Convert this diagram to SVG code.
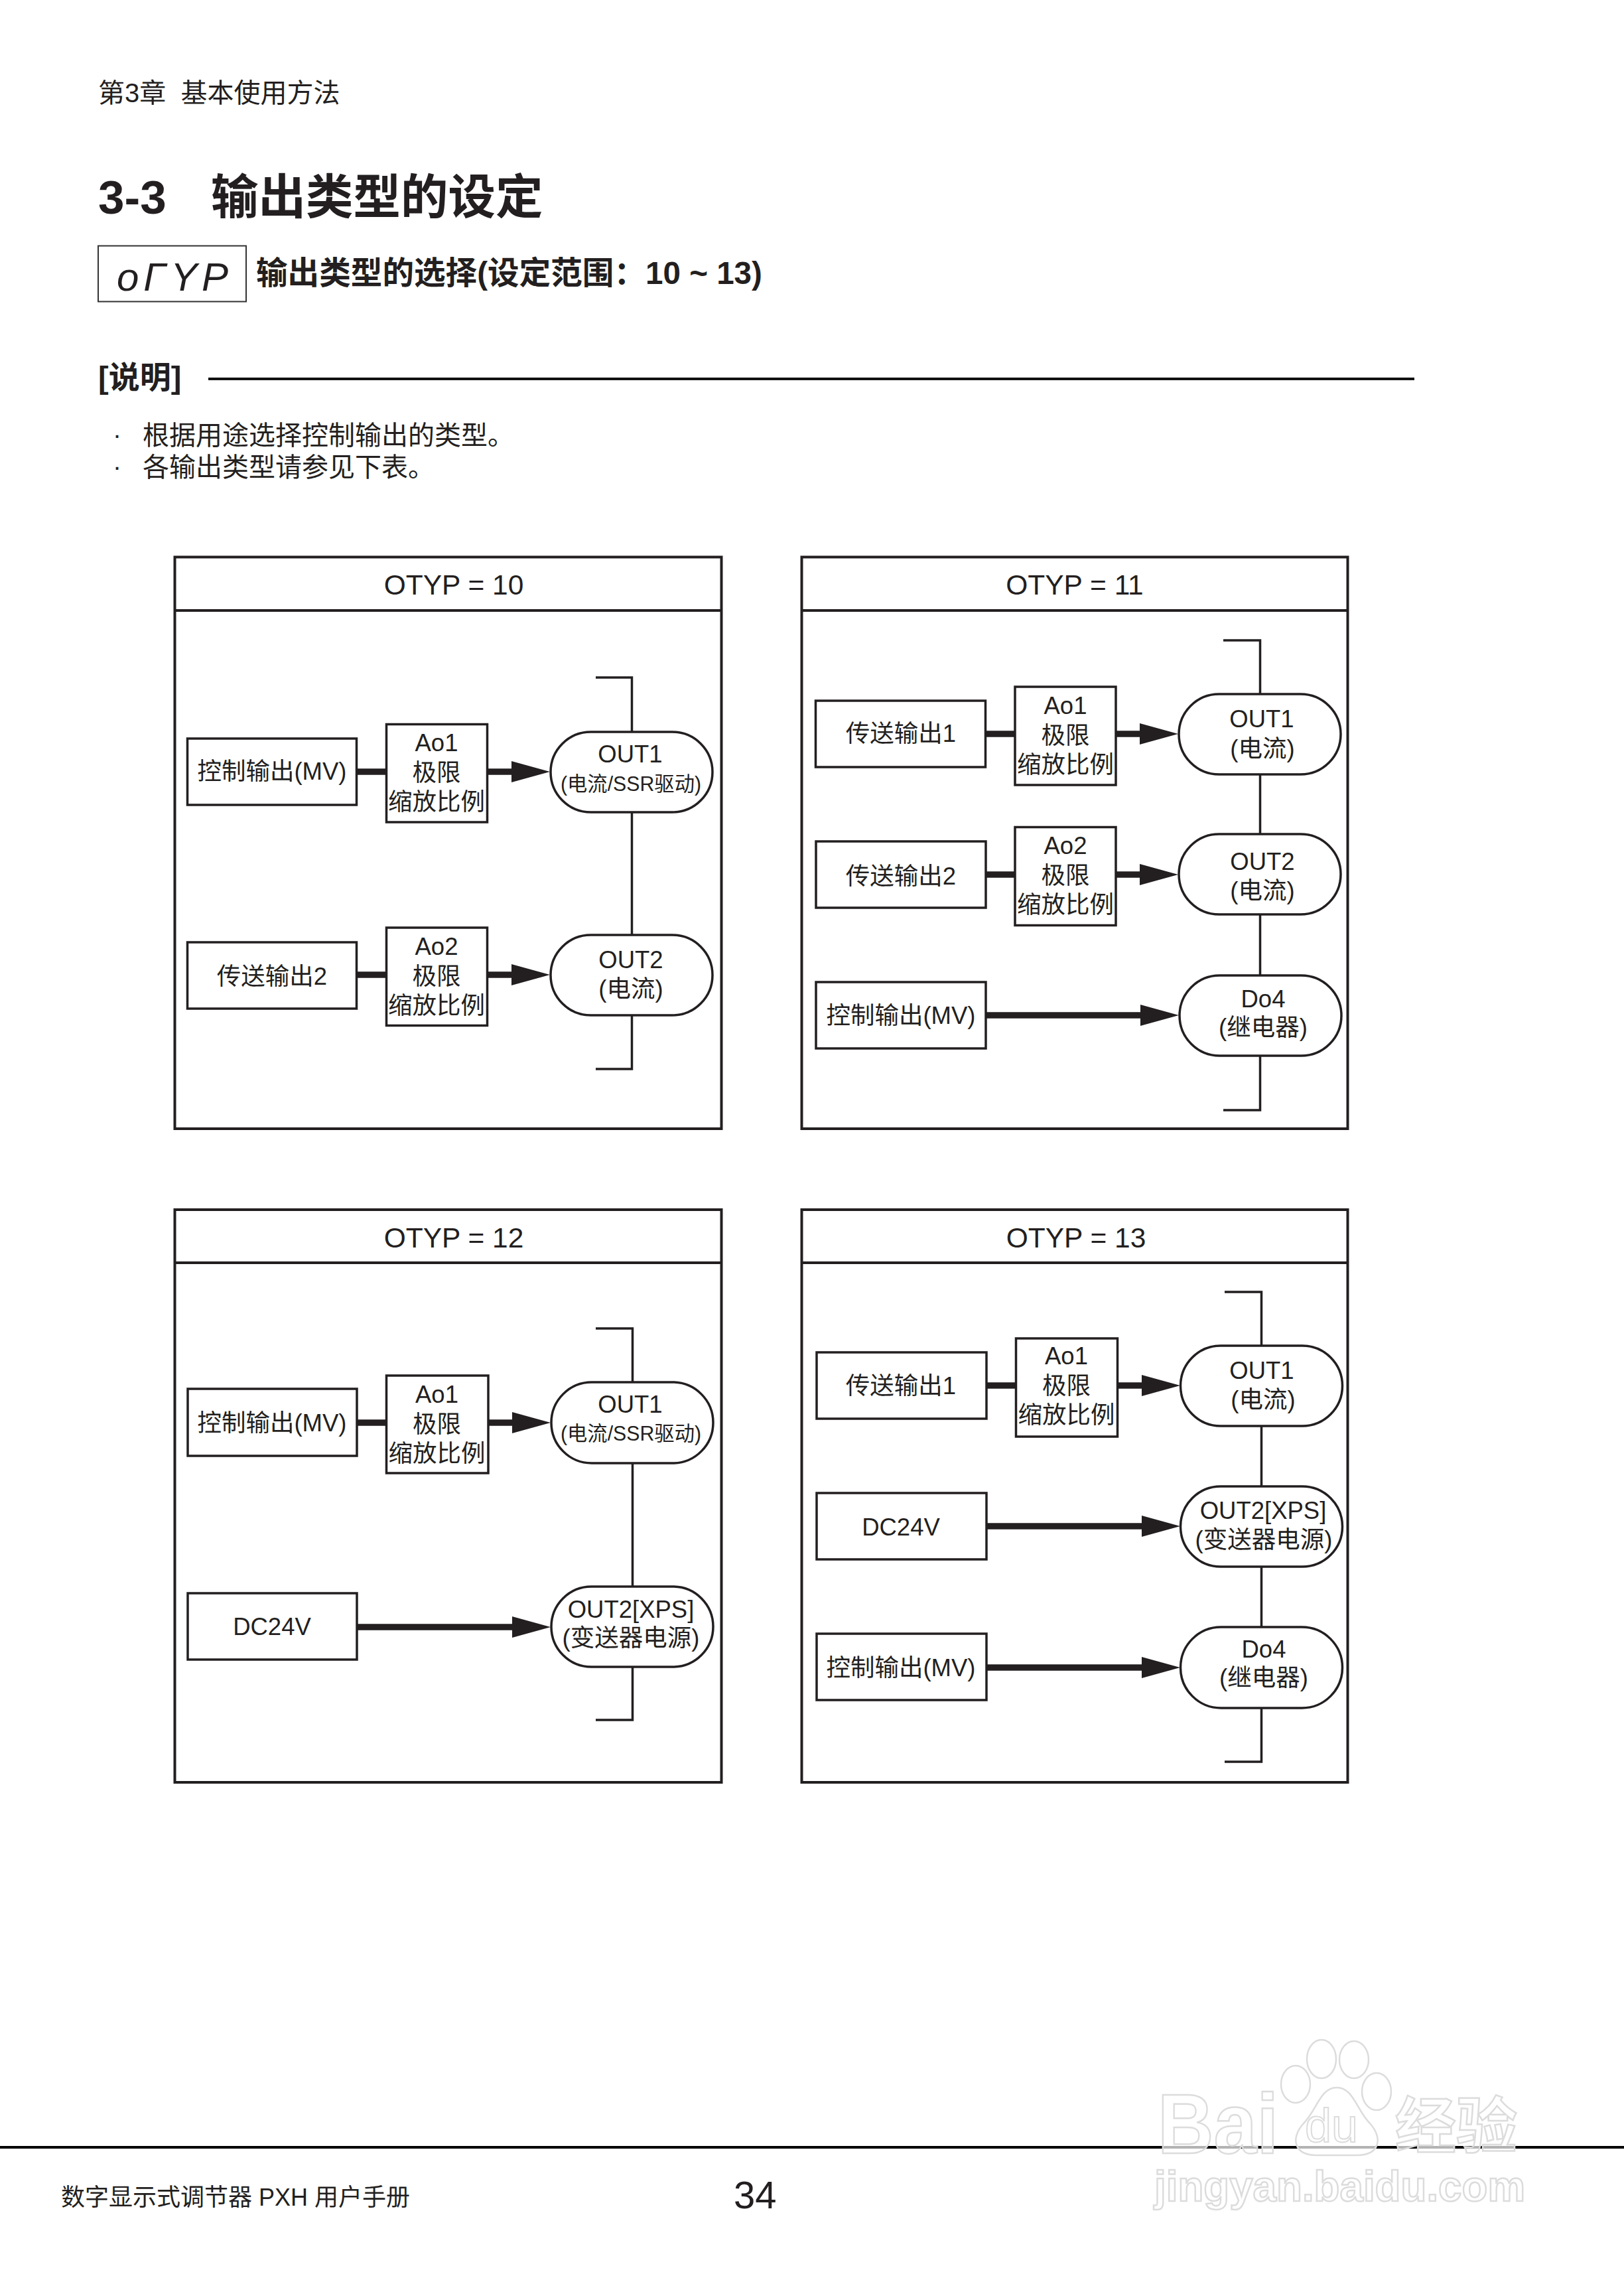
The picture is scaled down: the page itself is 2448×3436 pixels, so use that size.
<svg xmlns="http://www.w3.org/2000/svg" width="2448" height="3436" viewBox="0 0 2448 3436">
<defs>
<style>
text{font-family:"Liberation Sans","Noto Sans CJK SC",sans-serif;fill:#231f20}
.b{font-weight:700}
.m{text-anchor:middle;font-size:36.5px}
.t{text-anchor:middle;font-size:42.5px}
.frame{fill:#fff;stroke:#231f20;stroke-width:4}
.box{fill:#fff;stroke:#231f20;stroke-width:3.5}
.thin{fill:none;stroke:#231f20;stroke-width:3.5}
.thick{fill:none;stroke:#231f20;stroke-width:9.5}
.wm{fill:#fff;fill-opacity:.7;stroke:#dcdcdc;stroke-width:2.5;font-weight:700}
</style>
<marker id="ah" markerUnits="userSpaceOnUse" markerWidth="60" markerHeight="36" refX="0" refY="18" orient="auto"><path d="M0 2L58 18L0 34z" fill="#231f20"/></marker>
</defs>
<rect width="2448" height="3436" fill="#fff"/>
<g id="page-header">
<text x="148" y="154" font-size="40">第3章&#160;&#160;基本使用方法</text>
<text class="b" x="148" y="322" font-size="71">3-3</text>
<text class="b" x="318" y="322" font-size="71.500">输出类型的设定</text>
<rect x="148" y="370.500" width="223" height="84" fill="#fff" stroke="#333" stroke-width="2"/>
<text x="176" y="438" font-size="60" font-style="italic" textLength="168" lengthAdjust="spacing" fill="#333">oΓYP</text>
<text class="b" x="386" y="428" font-size="47.600">输出类型的选择(设定范围：10 ~ 13)</text>
<text class="b" x="148" y="585" font-size="47">[说明]</text>
<line x1="314" y1="571" x2="2132" y2="571" stroke="#111" stroke-width="4"/>
<text x="170" y="669" font-size="39">·</text>
<text x="215" y="670" font-size="40">根据用途选择控制输出的类型。</text>
<text x="170" y="717" font-size="39">·</text>
<text x="215" y="718" font-size="40">各输出类型请参见下表。</text>
</g>

<g id="frames">
<g id="frame-10"><rect class="frame" x="263.500" y="839.500" width="824" height="861.500"/><line class="frame" x1="263.500" y1="920" x2="1087.500" y2="920"/><text class="t" x="684" y="896">OTYP = 10</text></g>
<g id="frame-11"><rect class="frame" x="1208.500" y="839.500" width="823" height="861.500"/><line class="frame" x1="1208.500" y1="920" x2="2031.500" y2="920"/><text class="t" x="1620" y="896">OTYP = 11</text></g>
<g id="frame-12"><rect class="frame" x="263.500" y="1823" width="824" height="863"/><line class="frame" x1="263.500" y1="1903" x2="1087.500" y2="1903"/><text class="t" x="684" y="1880">OTYP = 12</text></g>
<g id="frame-13"><rect class="frame" x="1208.500" y="1823" width="823" height="863"/><line class="frame" x1="1208.500" y1="1903" x2="2031.500" y2="1903"/><text class="t" x="1622" y="1880">OTYP = 13</text></g>
</g>

<g id="connectors">
<path class="thin" d="M898 1021H952.500V1611H898"/>
<line class="thick" x1="537" y1="1163" x2="582" y2="1163"/>
<line class="thick" x1="735" y1="1163" x2="771" y2="1163" marker-end="url(#ah)"/>
<line class="thick" x1="537" y1="1469" x2="582" y2="1469"/>
<line class="thick" x1="735" y1="1469" x2="771" y2="1469" marker-end="url(#ah)"/>

<path class="thin" d="M1844 965H1899.500V1673H1844"/>
<line class="thick" x1="1485" y1="1106" x2="1529" y2="1106"/>
<line class="thick" x1="1682" y1="1106" x2="1718" y2="1106" marker-end="url(#ah)"/>
<line class="thick" x1="1485" y1="1318" x2="1530" y2="1318"/>
<line class="thick" x1="1682" y1="1318" x2="1718" y2="1318" marker-end="url(#ah)"/>
<line class="thick" x1="1486" y1="1530" x2="1719" y2="1530" marker-end="url(#ah)"/>

<path class="thin" d="M898 2002H953.500V2592H898"/>
<line class="thick" x1="538" y1="2144" x2="582" y2="2144"/>
<line class="thick" x1="736" y1="2144" x2="772" y2="2144" marker-end="url(#ah)"/>
<line class="thick" x1="538" y1="2452" x2="772" y2="2452" marker-end="url(#ah)"/>

<path class="thin" d="M1846 1947H1901.500V2655H1846"/>
<line class="thick" x1="1487" y1="2088" x2="1531" y2="2088"/>
<line class="thick" x1="1684" y1="2088" x2="1721" y2="2088" marker-end="url(#ah)"/>
<line class="thick" x1="1487" y1="2300" x2="1721" y2="2300" marker-end="url(#ah)"/>
<line class="thick" x1="1487" y1="2513" x2="1721" y2="2513" marker-end="url(#ah)"/>
</g>

<g id="otyp10-src1"><rect class="box" x="282.500" y="1113" width="255" height="100"/><text class="m" x="410" y="1175">控制输出(MV)</text></g>
<g id="otyp10-ao1"><rect class="box" x="582.500" y="1091.500" width="152" height="147.500"/><text class="m" x="658" y="1132">Ao1</text><text class="m" x="658" y="1177">极限</text><text class="m" x="658" y="1221">缩放比例</text></g>
<g id="otyp10-out1"><rect class="box" x="830" y="1103" width="244" height="121" rx="60.500"/><text class="m" x="950" y="1149">OUT1</text><text class="m" x="951" y="1192" style="font-size:31px" textLength="212" lengthAdjust="spacingAndGlyphs">(电流/SSR驱动)</text></g>
<g id="otyp10-src2"><rect class="box" x="282.500" y="1420" width="255" height="100"/><text class="m" x="410" y="1484">传送输出2</text></g>
<g id="otyp10-ao2"><rect class="box" x="582.500" y="1398" width="152" height="147.500"/><text class="m" x="658" y="1439">Ao2</text><text class="m" x="658" y="1484">极限</text><text class="m" x="658" y="1528">缩放比例</text></g>
<g id="otyp10-out2"><rect class="box" x="830" y="1409" width="244" height="121" rx="60.500"/><text class="m" x="951" y="1459">OUT2</text><text class="m" x="951" y="1503">(电流)</text></g>

<g id="otyp11-src1"><rect class="box" x="1229.500" y="1056" width="256" height="100"/><text class="m" x="1358" y="1118">传送输出1</text></g>
<g id="otyp11-ao1"><rect class="box" x="1530" y="1035" width="152" height="148"/><text class="m" x="1606" y="1076">Ao1</text><text class="m" x="1606" y="1121">极限</text><text class="m" x="1606" y="1165">缩放比例</text></g>
<g id="otyp11-out1"><rect class="box" x="1777" y="1046" width="244" height="121" rx="60.500"/><text class="m" x="1902" y="1096">OUT1</text><text class="m" x="1903" y="1141">(电流)</text></g>
<g id="otyp11-src2"><rect class="box" x="1230" y="1268" width="256" height="100"/><text class="m" x="1358" y="1333">传送输出2</text></g>
<g id="otyp11-ao2"><rect class="box" x="1530" y="1246.500" width="152" height="148"/><text class="m" x="1606" y="1287">Ao2</text><text class="m" x="1606" y="1332">极限</text><text class="m" x="1606" y="1376">缩放比例</text></g>
<g id="otyp11-out2"><rect class="box" x="1777" y="1257" width="244" height="121" rx="60.500"/><text class="m" x="1903" y="1311">OUT2</text><text class="m" x="1903" y="1355">(电流)</text></g>
<g id="otyp11-src3"><rect class="box" x="1230" y="1480" width="256" height="100"/><text class="m" x="1358" y="1543">控制输出(MV)</text></g>
<g id="otyp11-do4"><rect class="box" x="1778" y="1470" width="244" height="121" rx="60.500"/><text class="m" x="1904" y="1518">Do4</text><text class="m" x="1904" y="1561">(继电器)</text></g>

<g id="otyp12-src1"><rect class="box" x="283" y="2093" width="255" height="101"/><text class="m" x="410" y="2157">控制输出(MV)</text></g>
<g id="otyp12-ao1"><rect class="box" x="582.500" y="2073" width="153.500" height="147"/><text class="m" x="658.500" y="2114">Ao1</text><text class="m" x="658.500" y="2159">极限</text><text class="m" x="658.500" y="2203">缩放比例</text></g>
<g id="otyp12-out1"><rect class="box" x="831" y="2083" width="244" height="122" rx="61"/><text class="m" x="950" y="2129">OUT1</text><text class="m" x="951" y="2171" style="font-size:31px" textLength="212" lengthAdjust="spacingAndGlyphs">(电流/SSR驱动)</text></g>
<g id="otyp12-src2"><rect class="box" x="283" y="2401" width="255" height="100"/><text class="m" x="410" y="2464">DC24V</text></g>
<g id="otyp12-out2"><rect class="box" x="831" y="2391" width="244" height="121" rx="60.500"/><text class="m" x="951" y="2438">OUT2[XPS]</text><text class="m" x="951" y="2481">(变送器电源)</text></g>

<g id="otyp13-src1"><rect class="box" x="1231" y="2038" width="256" height="100"/><text class="m" x="1358" y="2101">传送输出1</text></g>
<g id="otyp13-ao1"><rect class="box" x="1531.500" y="2017" width="153" height="148"/><text class="m" x="1607.500" y="2056">Ao1</text><text class="m" x="1607.500" y="2101">极限</text><text class="m" x="1607.500" y="2145">缩放比例</text></g>
<g id="otyp13-out1"><rect class="box" x="1779.500" y="2028" width="244" height="121" rx="60.500"/><text class="m" x="1902" y="2078">OUT1</text><text class="m" x="1904" y="2122">(电流)</text></g>
<g id="otyp13-src2"><rect class="box" x="1231" y="2250" width="256" height="100"/><text class="m" x="1358" y="2314">DC24V</text></g>
<g id="otyp13-out2"><rect class="box" x="1779.500" y="2240" width="244" height="121" rx="60.500"/><text class="m" x="1904" y="2289">OUT2[XPS]</text><text class="m" x="1905" y="2333">(变送器电源)</text></g>
<g id="otyp13-src3"><rect class="box" x="1231" y="2462" width="256" height="100"/><text class="m" x="1358" y="2526">控制输出(MV)</text></g>
<g id="otyp13-do4"><rect class="box" x="1779.500" y="2452" width="244" height="122" rx="61"/><text class="m" x="1905" y="2498">Do4</text><text class="m" x="1905" y="2541">(继电器)</text></g>

<g id="page-footer">
<line x1="0" y1="3236" x2="2448" y2="3236" stroke="#000" stroke-width="4"/>
<text x="92" y="3324" font-size="36">数字显示式调节器 PXH 用户手册</text>
<text x="1106" y="3328" font-size="58">34</text>
</g>

<g id="watermark">
<text class="wm" x="1745" y="3245" font-size="128" textLength="182" lengthAdjust="spacingAndGlyphs">Bai</text>
<ellipse class="wm" cx="1953" cy="3141" rx="22" ry="28"/>
<ellipse class="wm" cx="1992" cy="3103" rx="22" ry="29"/>
<ellipse class="wm" cx="2041" cy="3104" rx="22" ry="28"/>
<ellipse class="wm" cx="2075" cy="3152" rx="22" ry="28"/>
<path class="wm" d="M2015 3146C1990 3146 1985 3180 1965 3200C1945 3222 1950 3248 1985 3248H2045C2080 3248 2085 3222 2065 3200C2045 3180 2040 3146 2015 3146Z"/>
<text class="wm" x="1967" y="3228" font-size="72" style="stroke-width:2;font-weight:400">du</text>
<text class="wm" x="2103" y="3237" font-size="92">经验</text>
<text class="wm" x="1740" y="3317" font-size="65" textLength="559" lengthAdjust="spacingAndGlyphs">jingyan.baidu.com</text>
</g>
</svg>
